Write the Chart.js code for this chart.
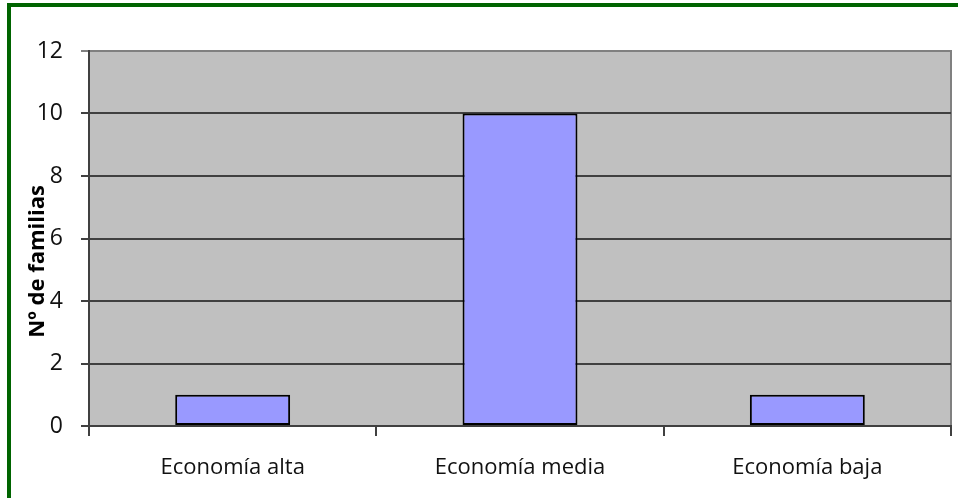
<!DOCTYPE html>
<html>
<head>
<meta charset="utf-8">
<script src="https://cdn.jsdelivr.net/npm/chart.js@4"></script>
<style>
html,body{margin:0;padding:0;background:#fff;width:958px;height:498px;overflow:hidden;}
#frame{position:absolute;left:7px;top:3px;width:1000px;height:600px;border:4px solid #006400;box-sizing:border-box;}
#wrap{position:absolute;left:0;top:0;width:958px;height:498px;}
</style>
</head>
<body>
<div id="frame"></div>
<div id="wrap"><canvas id="c" width="958" height="498"></canvas></div>
<script>
const categories = ["Economía alta", "Economía media", "Economía baja"];
const familias = [1, 10, 1];
const yTicks = [0, 2, 4, 6, 8, 10, 12];
const yTitle = "Nº de familias";

const plotBg = {
  id: 'plotBg',
  beforeDraw(chart) {
    const {ctx, chartArea: a} = chart;
    ctx.save();
    ctx.fillStyle = '#c0c0c0';
    ctx.fillRect(a.left, a.top, a.right - a.left, a.bottom - a.top);
    ctx.strokeStyle = '#808080';
    ctx.lineWidth = 2;
    ctx.beginPath();
    ctx.moveTo(a.left, a.top);
    ctx.lineTo(a.right, a.top);
    ctx.lineTo(a.right, a.bottom);
    ctx.stroke();
    ctx.restore();
  }
};

new Chart(document.getElementById('c'), {
  type: 'bar',
  data: {
    labels: categories,
    datasets: [{
      data: familias,
      backgroundColor: '#9999ff',
      borderColor: '#000000',
      borderWidth: 2,
      borderSkipped: false,
      categoryPercentage: 1,
      barPercentage: 0.4
    }]
  },
  options: {
    responsive: false,
    animation: false,
    devicePixelRatio: 1,
    layout: {padding: {top: 51, right: 7, left: 0, bottom: 0}},
    plugins: {legend: {display: false}, tooltip: {enabled: false}},
    scales: {
      x: {
        grid: {display: true, drawOnChartArea: false, drawTicks: true, tickLength: 10, color: '#404040', lineWidth: 2, offset: true},
        border: {display: true, color: '#404040', width: 2},
        ticks: {color: '#111', font: {family: 'Open Sans', size: 22}, padding: 19},
        afterFit(s) { s.height = 72; }
      },
      y: {
        min: 0, max: 12,
        afterBuildTicks(s) { s.ticks = yTicks.map(v => ({value: v})); },
        grid: {
          color: ctx => (ctx.tick && ctx.tick.value === 12) ? '#808080' : '#404040',
          lineWidth: 2, tickLength: 8, drawTicks: true
        },
        border: {display: true, color: '#404040', width: 2},
        ticks: {color: '#111', font: {family: 'Open Sans', size: 23}, padding: 18},
        title: {display: true, text: yTitle + '        ', color: '#000', font: {family: 'Open Sans', size: 22, weight: 'bold'}, padding: {top: 25, bottom: 0}},
        afterFit(s) { s.width = 89; }
      }
    }
  },
  plugins: [plotBg]
});
</script>
</body>
</html>
